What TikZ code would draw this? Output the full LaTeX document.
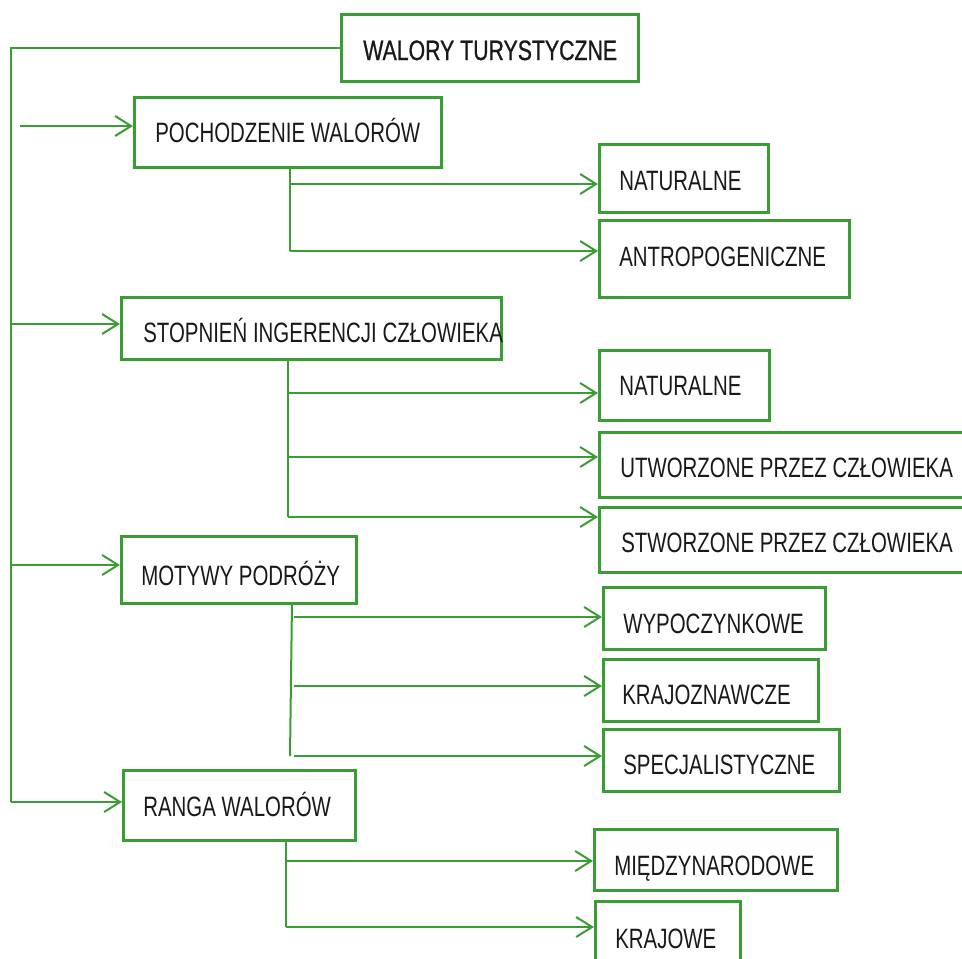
\documentclass[tikz,border=0pt]{standalone}
\usepackage{fontspec}
\setmainfont[FakeStretch=0.73]{Liberation Sans}
\newfontfamily\titlefont[FakeStretch=0.76,FakeBold=0.8]{Liberation Sans}
\usetikzlibrary{arrows.meta}
\definecolor{grn}{RGB}{58,157,52}
\definecolor{txt}{RGB}{25,25,25}
\begin{document}
\begin{tikzpicture}[x=0.75pt,y=-0.75pt,
  box/.style={draw=grn,line width=2pt,rectangle,inner sep=0pt,anchor=north west},
  mainbox/.style={box,line width=2.6pt},
  lbl/.style={anchor=base west,inner sep=0pt,text=txt,font=\fontsize{21}{25}\selectfont},
  titlelbl/.style={lbl,font=\titlefont\fontsize{21}{25}\selectfont},
  conn/.style={draw=grn,line width=1.5pt},
  arr/.style={conn,-{Straight Barb[length=12pt,width=15pt,line width=1.5pt]}},
]
\path[use as bounding box] (0,0) rectangle (962,958);
% boxes: (x,y) north west, width, height in px
\newcommand{\bx}[5][box]{\node[#1,minimum width=#4*0.75pt,minimum height=#5*0.75pt] (#2) at (#3) {};}
\bx[mainbox]{title}{340,13}{297}{67}
\bx{poch}{133,96}{307}{70}
\bx{nata}{598,143}{169}{68}
\bx{antro}{598,219}{250}{77}
\bx{stop}{120,296}{380}{62}
\bx{natb}{598,349}{170}{70}
\bx{utw}{598,431}{380}{65}
\bx{stw}{598,506}{380}{65}
\bx{mot}{120,535}{235}{67}
\bx{wyp}{602,586}{222}{62}
\bx{kraj}{602,658}{215}{62}
\bx{spec}{602,728}{236}{62}
\bx{ranga}{122,769}{232}{70}
\bx{mie}{593,828}{243}{61}
\bx{krw}{594,900}{145}{80}
% labels
\node[titlelbl] (titlet) at (363,60) {WALORY TURYSTYCZNE};
\node[lbl] (pocht) at (155,142) {POCHODZENIE WALORÓW};
\node[lbl] (natat) at (619,190) {NATURALNE};
\node[lbl] (antrot) at (619,266) {ANTROPOGENICZNE};
\node[lbl] (stopt) at (143,342) {STOPNIEŃ INGERENCJI CZŁOWIEKA};
\node[lbl] (natbt) at (619,395) {NATURALNE};
\node[lbl] (utwt) at (620,477) {UTWORZONE PRZEZ CZŁOWIEKA};
\node[lbl] (stwt) at (621,552) {STWORZONE PRZEZ CZŁOWIEKA};
\node[lbl] (mott) at (141,585) {MOTYWY PODRÓŻY};
\node[lbl] (wypt) at (623,633) {WYPOCZYNKOWE};
\node[lbl] (krajt) at (622,704) {KRAJOZNAWCZE};
\node[lbl] (spect) at (623,774) {SPECJALISTYCZNE};
\node[lbl] (rangat) at (143,816) {RANGA WALORÓW};
\node[lbl] (miet) at (614,875) {MIĘDZYNARODOWE};
\node[lbl] (krwt) at (615,948) {KRAJOWE};
% main trunk
\coordinate (tb) at (11,802);
\coordinate (ta) at (20,126);
\coordinate (t2) at (11,324);
\coordinate (t3) at (11,565);
\draw[conn] (title.west) -| (tb);
\draw[arr] (ta) -- (poch.west |- ta);
\draw[arr] (t2) -- (stop.west |- t2);
\draw[arr] (t3) -- (mot.west |- t3);
\draw[arr] (tb) -- (ranga.west |- tb);
% POCHODZENIE branch
\coordinate (pa) at (290,166);
\coordinate (pb) at (290,184);
\coordinate (pc) at (290,251);
\draw[conn] (pa) -- (pc);
\draw[arr] (pb) -- (nata.west |- pb);
\draw[arr] (pc) -- (antro.west |- pc);
% STOPIEN branch
\coordinate (sa) at (288,358);
\coordinate (sb) at (288,393);
\coordinate (sc) at (288,457);
\coordinate (sd) at (288,517);
\draw[conn] (sa) -- (sd);
\draw[arr] (sb) -- (natb.west |- sb);
\draw[arr] (sc) -- (utw.west |- sc);
\draw[arr] (sd) -- (stw.west |- sd);
% MOTYWY branch
\coordinate (ma) at (292,602);
\coordinate (md) at (290,756);
\coordinate (mb) at (294,617);
\coordinate (mc) at (294,686);
\coordinate (me) at (294,756);
\draw[conn] (ma) -- (md);
\draw[arr] (mb) -- (wyp.west |- mb);
\draw[arr] (mc) -- (kraj.west |- mc);
\draw[arr] (me) -- (spec.west |- me);
% RANGA branch
\coordinate (ra) at (286,839);
\coordinate (rb) at (286,861);
\coordinate (rc) at (286,927);
\draw[conn] (ra) -- (rc);
\draw[arr] (rb) -- (mie.west |- rb);
\draw[arr] (rc) -- (krw.west |- rc);
\end{tikzpicture}
\end{document}
